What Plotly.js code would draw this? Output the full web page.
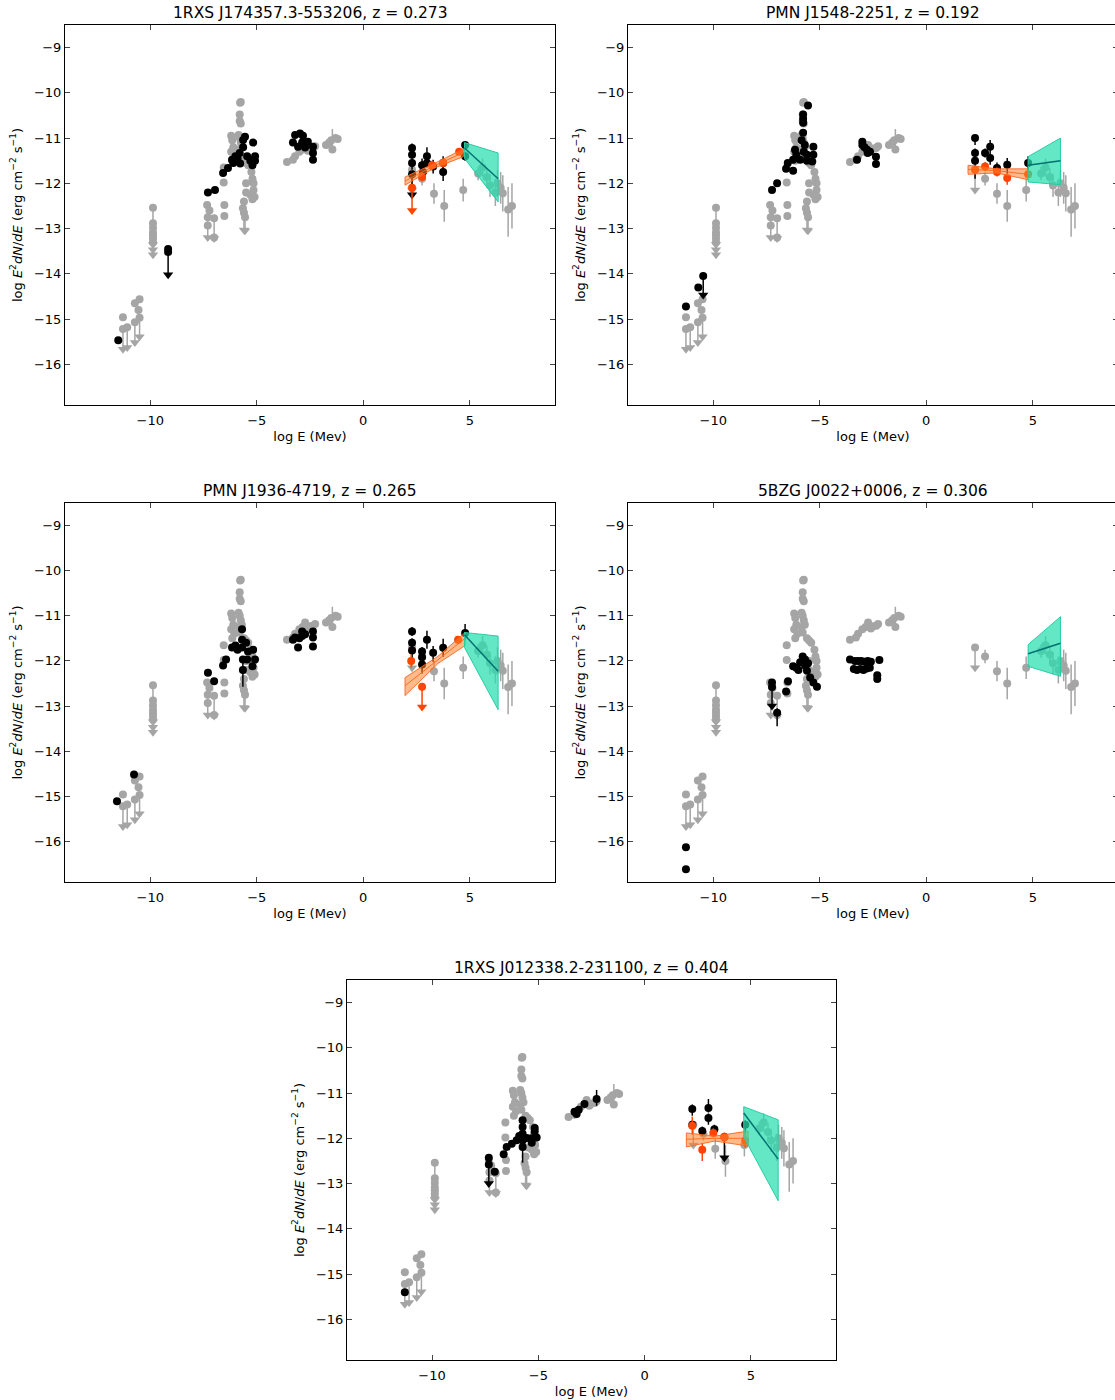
<!DOCTYPE html>
<html><head><meta charset="utf-8">
<script src="https://cdn.plot.ly/plotly-3.0.1.min.js"></script>
<style>html,body{margin:0;padding:0;background:#fff;overflow:hidden;}#chart{width:1120px;height:1400px;}</style>
</head><body><div id="chart"></div>
<script>
// point format: [logE, logFlux, errUp, errDown, upperLimit]
const titles = ["1RXS J174357.3-553206, z = 0.273","PMN J1548-2251, z = 0.192","PMN J1936-4719, z = 0.265","5BZG J0022+0006, z = 0.306","1RXS J012338.2-231100, z = 0.404"];
const xTicks = [-10,-5,0,5];
const yTicks = [-9,-10,-11,-12,-13,-14,-15,-16];

const grayPts = [
 [-11.28,-14.96,0,0,0],[-11.28,-15.22,0,0.45,1],[-11.08,-15.18,0,0.45,1],[-10.72,-15.07,0,0.45,1],
 [-10.72,-14.65,0,0,0],[-10.55,-14.8,0,0,0],[-10.5,-14.56,0,0,0],[-10.5,-14.97,0,0.42,1],
 [-9.87,-12.54,0,0.3,0],[-9.87,-12.88,0,0,0],[-9.87,-12.98,0,0,0],[-9.87,-13.08,0,0,0],
 [-9.87,-13.15,0,0.2,1],[-9.87,-13.22,0,0.25,1],[-9.87,-13.3,0,0.28,1],
 [-7.33,-12.48,0,0,0],[-7.22,-12.6,0,0,0],[-7.3,-12.75,0,0.45,1],[-7.3,-12.93,0,0,0],
 [-7.0,-12.77,0,0.45,1],[-7.0,-13.2,0,0,0],[-6.52,-12.48,0,0,0],[-6.52,-12.72,0,0,0],
 [-6.55,-11.65,0,0,0],[-6.55,-11.98,0,0,0],
 [-5.78,-10.22,0,0,0],[-5.75,-10.2,0,0,0],[-5.8,-10.48,0,0,0],[-5.8,-10.62,0,0,0],[-5.75,-10.68,0,0,0],
 [-6.2,-10.95,0,0,0],[-6.15,-11.05,0,0,0],[-6.1,-11.2,0,0,0],[-6.2,-11.3,0,0,0],[-6.05,-11.4,0,0,0],[-6.15,-11.5,0,0,0],
 [-5.85,-10.93,0,0,0],[-5.8,-11.0,0,0,0],[-5.75,-11.1,0,0,0],[-5.85,-11.25,0,0,0],[-5.8,-11.37,0,0,0],[-5.7,-11.2,0,0,0],
 [-5.6,-11.5,0,0,0],[-5.5,-11.55,0,0,0],[-5.4,-11.6,0,0,0],[-5.25,-11.75,0,0,0],[-5.2,-11.9,0,0,0],
 [-5.15,-12.0,0,0,0],[-5.15,-12.15,0,0,0],[-5.1,-12.3,0,0,0],[-5.2,-12.35,0,0,0],[-5.3,-12.25,0,0,0],
 [-5.5,-12.0,0,0,0],[-5.5,-12.2,0,0,0],[-5.6,-12.4,0,0,0],[-5.65,-12.55,0,0,0],
 [-5.6,-12.65,0,0.38,1],[-5.55,-12.75,0,0.3,1],
 [-3.58,-11.53,0,0,0],[-3.3,-11.48,0,0,0],[-3.2,-11.4,0,0,0],[-3.0,-11.3,0,0,0],[-2.85,-11.25,0,0,0],
 [-2.73,-11.15,0,0,0],[-2.6,-11.28,0,0,0],[-2.5,-11.23,0,0,0],[-2.35,-11.22,0,0,0],[-2.26,-11.18,0,0,0],
 [-1.75,-11.15,0,0,0],[-1.6,-11.1,0,0,0],[-1.5,-11.05,0,0,0],[-1.45,-11.25,0.45,0,0],[-1.3,-11.0,0,0,0],[-1.2,-11.02,0,0,0],
 [2.29,-11.7,0,0.45,1],[2.76,-11.9,0.15,0.15,0],[3.32,-12.23,0.23,0.22,0],[3.8,-12.5,0.35,0.35,0],[4.69,-12.15,0.25,0.25,0],
 [5.39,-11.78,0.15,0.15,0],[5.6,-11.65,0.2,0.2,0],[5.8,-11.86,0.2,0.2,0],[5.95,-12.05,0.25,0.25,0],
 [6.2,-12.2,0.3,0.3,0],[6.3,-12.0,0.3,0.3,0],[6.45,-12.1,0.35,0.35,0],[6.55,-12.22,0.4,0.4,0],
 [6.8,-12.58,0.5,0.6,0],[6.98,-12.5,0.5,0.5,0]
];

const p1Black = [
 [-11.5,-15.47,0,0,0],[-9.16,-13.45,0,0,0],[-9.16,-13.52,0,0.5,1],
 [-7.29,-12.2,0,0,0],[-6.96,-12.15,0,0,0],[-6.58,-11.77,0,0,0],[-6.35,-11.66,0,0,0],[-6.16,-11.48,0,0,0],
 [-6.1,-11.55,0,0,0],[-6.0,-11.4,0,0,0],[-5.8,-11.33,0,0,0],[-5.78,-11.56,0,0,0],[-5.64,-11.04,0,0,0],
 [-5.64,-11.2,0,0,0],[-5.55,-10.97,0,0,0],[-5.45,-11.4,0,0,0],[-5.3,-11.5,0,0,0],[-5.2,-11.6,0,0,0],
 [-5.17,-11.1,0,0,0],[-5.08,-11.4,0,0,0],[-5.08,-11.5,0,0,0],[-5.9,-11.45,0,0,0],
 [-3.2,-10.93,0,0,0],[-2.97,-10.9,0,0,0],[-2.83,-10.95,0,0,0],[-3.3,-11.1,0,0,0],[-3.06,-11.19,0,0,0],
 [-2.87,-11.1,0,0,0],[-2.73,-11.21,0,0,0],[-2.6,-11.08,0,0,0],[-2.36,-11.19,0,0,0],[-2.36,-11.33,0,0,0],[-2.36,-11.48,0,0,0],
 [2.29,-11.22,0.1,0.1,0],[2.29,-11.37,0,0,0],[2.29,-11.55,0.15,0.15,0],[2.29,-11.8,0,0.45,1],
 [2.76,-11.6,0.15,0.15,0],[2.8,-11.75,0.12,0.15,0],[2.99,-11.4,0.2,0.25,0],[2.99,-11.55,0,0,0],
 [3.28,-11.63,0.15,0.15,0],[3.75,-11.55,0.15,0.15,0],[3.75,-11.75,0.15,0.2,0],[4.78,-11.15,0.05,0.1,0],[4.78,-11.4,0.1,0.1,0]
];
const p1Red = [[2.29,-12.1,0,0.5,1],[2.76,-11.86,0.1,0.1,0],[3.23,-11.6,0.1,0.1,0],[3.75,-11.55,0.1,0.1,0],[4.5,-11.3,0.05,0.05,0]];
const p1BowX = [1.96,3.3,4.7], p1BowMid = [-11.95,-11.62,-11.32], p1BowHi = [-11.86,-11.57,-11.24], p1BowLo = [-12.04,-11.67,-11.41];
const p1GrX = [4.75,6.33], p1GrMid = [-11.22,-11.9], p1GrHi = [-11.1,-11.33], p1GrLo = [-11.45,-12.41];

const p2Black = [
 [-11.28,-14.72,0,0,0],[-10.7,-14.3,0,0,0],[-10.47,-14.05,0,0.42,1],
 [-7.24,-12.15,0,0,0],[-7.0,-12.0,0,0,0],[-6.58,-11.68,0,0,0],[-6.25,-11.72,0,0,0],[-6.5,-11.55,0,0,0],
 [-6.25,-11.48,0,0,0],[-6.16,-11.26,0,0,0],[-6.1,-11.37,0,0,0],[-5.92,-11.48,0,0,0],[-5.78,-10.48,0,0,0],
 [-5.78,-10.57,0,0,0],[-5.78,-10.66,0,0,0],[-5.78,-10.88,0,0,0],[-5.7,-11.15,0,0,0],[-5.55,-10.28,0,0,0],
 [-5.6,-11.37,0,0,0],[-5.6,-11.5,0,0,0],[-5.3,-11.19,0,0,0],[-5.3,-11.37,0,0,0],[-5.35,-11.52,0,0,0],
 [-5.75,-11.3,0,0,0],[-5.85,-11.05,0,0,0],
 [-3.25,-11.48,0,0,0],[-3.0,-11.08,0,0,0],[-3.0,-11.15,0,0,0],[-2.78,-11.26,0,0,0],[-2.75,-11.33,0,0,0],
 [-2.64,-11.3,0,0,0],[-2.36,-11.41,0,0,0],[-2.36,-11.57,0,0,0],[-2.9,-11.2,0,0,0],
 [2.29,-11.0,0.05,0.15,0],[2.29,-11.33,0.1,0.1,0],[2.29,-11.5,0.1,0.4,0],[2.76,-11.33,0.1,0.1,0],
 [3.0,-11.19,0.15,0.2,0],[3.0,-11.44,0.1,0.15,0],[3.32,-11.66,0.12,0.15,0],[3.8,-11.59,0.15,0.2,0],[4.78,-11.55,0.15,0.15,0]
];
const p2Red = [[2.29,-11.7,0.1,0.1,0],[2.76,-11.63,0.1,0.1,0],[3.32,-11.75,0.1,0.1,0],[3.8,-11.88,0.1,0.15,0],[4.78,-11.8,0.05,0.05,0]];
const p2BowX = [1.96,3.3,4.78], p2BowMid = [-11.69,-11.72,-11.8], p2BowHi = [-11.6,-11.68,-11.68], p2BowLo = [-11.8,-11.77,-11.92];
const p2GrX = [4.78,6.3], p2GrMid = [-11.6,-11.5], p2GrHi = [-11.41,-11.0], p2GrLo = [-11.97,-12.03];

const p3Black = [
 [-11.56,-15.11,0,0,0],[-10.76,-14.52,0,0,0],
 [-7.29,-12.26,0,0,0],[-7.0,-12.45,0,0,0],[-6.58,-12.1,0,0,0],[-6.44,-11.97,0,0,0],[-6.16,-11.7,0,0,0],
 [-6.0,-11.66,0,0,0],[-5.69,-11.3,0,0,0],[-5.69,-11.53,0,0,0],[-5.69,-11.7,0,0,0],[-5.65,-11.97,0,0.6,0],
 [-5.65,-12.2,0,0,0],[-5.41,-11.79,0,0,0],[-5.17,-11.75,0,0,0],[-5.08,-11.97,0,0,0],[-5.2,-12.12,0,0,0],
 [-5.45,-11.97,0,0,0],[-5.9,-11.75,0,0,0],[-5.5,-11.6,0,0,0],
 [-3.3,-11.53,0,0,0],[-3.2,-11.48,0,0,0],[-2.87,-11.35,0,0,0],[-2.87,-11.45,0,0,0],[-3.06,-11.7,0,0,0],
 [-2.73,-11.41,0,0,0],[-2.36,-11.35,0,0,0],[-2.36,-11.48,0,0,0],[-2.36,-11.68,0,0,0],[-3.0,-11.5,0,0,0],
 [2.29,-11.35,0.1,0.1,0],[2.29,-11.6,0.1,0.1,0],[2.29,-11.77,0.15,0.3,0],[2.76,-11.79,0.1,0.1,0],
 [2.76,-11.92,0,0,0],[2.76,-12.08,0.1,0.2,0],[2.99,-11.53,0.2,0.2,0],[3.28,-11.82,0.15,0.2,0],
 [3.75,-11.71,0.2,0.2,0],[4.78,-11.38,0.2,0.15,0]
];
const p3Red = [[2.25,-12.0,0.15,0.15,0],[2.76,-12.57,0,0.45,1],[4.45,-11.53,0.05,0.05,0]];
const p3BowX = [1.96,3.5,4.78], p3BowMid = [-12.55,-11.98,-11.5], p3BowHi = [-12.37,-11.9,-11.37], p3BowLo = [-12.77,-12.06,-11.66];
const p3GrX = [4.75,6.33], p3GrMid = [-11.42,-12.23], p3GrHi = [-11.37,-11.45], p3GrLo = [-11.7,-13.08];

const p4Black = [
 [-11.28,-16.13,0,0,0],[-11.28,-16.62,0,0,0],
 [-7.24,-12.48,0,0,0],[-7.24,-12.58,0,0.42,1],[-7.0,-13.15,0.1,0.3,0],[-6.58,-12.68,0,0,0],[-6.49,-12.45,0,0,0],
 [-6.25,-12.12,0,0,0],[-6.1,-12.15,0,0,0],[-5.92,-12.03,0,0,0],[-5.69,-11.97,0,0,0],[-5.69,-12.1,0,0,0],
 [-5.6,-12.22,0,0,0],[-5.45,-12.37,0,0,0],[-5.3,-12.48,0,0,0],[-5.13,-12.57,0,0,0],[-6.0,-12.2,0,0,0],
 [-5.8,-11.9,0,0,0],[-5.55,-12.05,0,0,0],
 [-3.58,-11.97,0,0,0],[-3.35,-12.0,0,0,0],[-3.2,-12.0,0,0,0],[-3.05,-12.0,0,0,0],[-2.9,-12.02,0,0,0],
 [-2.75,-12.0,0,0,0],[-2.6,-12.02,0,0,0],[-2.2,-11.98,0,0,0],[-3.4,-12.18,0,0,0],[-3.25,-12.2,0,0,0],
 [-3.1,-12.18,0,0,0],[-2.95,-12.2,0,0,0],[-2.8,-12.17,0,0,0],[-2.65,-12.15,0,0,0],[-2.3,-12.32,0,0,0],[-2.3,-12.4,0,0,0]
];
const p4Red = [];
const p4BowX = [], p4BowMid = [], p4BowHi = [], p4BowLo = [];
const p4GrX = [4.78,6.3], p4GrMid = [-11.84,-11.61], p4GrHi = [-11.64,-11.02], p4GrLo = [-12.12,-12.34];

const p5Black = [
 [-11.28,-15.4,0,0,0],
 [-7.33,-12.43,0,0,0],[-7.33,-12.58,0,0.42,1],[-7.05,-12.74,0,0,0],[-6.63,-12.35,0,0,0],[-6.49,-12.19,0,0,0],
 [-6.25,-12.12,0,0,0],[-6.02,-12.04,0,0,0],[-5.85,-12.0,0,0,0],[-5.74,-11.6,0,0,0],[-5.74,-11.75,0,0,0],
 [-5.74,-11.9,0,0,0],[-5.74,-12.05,0,0,0],[-5.74,-12.19,0,0.35,0],[-5.55,-11.99,0,0,0],[-5.31,-12.0,0,0,0],
 [-5.17,-11.77,0,0,0],[-5.17,-11.85,0,0,0],[-5.08,-11.98,0,0,0],[-5.31,-12.1,0,0,0],[-5.9,-11.95,0,0,0],
 [-3.3,-11.41,0,0,0],[-3.2,-11.46,0,0,0],[-3.1,-11.37,0,0,0],[-2.83,-11.24,0,0,0],[-2.26,-11.13,0.2,0.15,0],
 [2.24,-11.35,0.1,0.15,0],[2.24,-11.7,0.1,0.1,0],[2.71,-11.84,0.1,0.1,0],[3.0,-11.33,0.2,0.1,0],
 [3.0,-11.55,0.1,0.15,0],[3.28,-11.8,0.1,0.1,0],[3.75,-11.97,0,0.46,1],[4.73,-11.7,0.1,0.2,0]
];
const p5Red = [[2.24,-11.72,0.2,0.2,0],[2.71,-12.25,0.15,0.25,0],[3.23,-11.88,0.1,0.1,0],[3.75,-11.97,0.1,0.1,0],[4.73,-12.05,0.15,0.15,0]];
const p5BowX = [1.96,3.3,4.87], p5BowMid = [-12.02,-12.0,-12.0], p5BowHi = [-11.88,-11.95,-11.84], p5BowLo = [-12.19,-12.06,-12.17];
const p5GrX = [4.66,6.28], p5GrMid = [-11.44,-12.46], p5GrHi = [-11.3,-11.59], p5GrLo = [-11.97,-13.38];

const panels = [
 {black:p1Black, red:p1Red, bx:p1BowX, bm:p1BowMid, bh:p1BowHi, bl:p1BowLo, gx:p1GrX, gm:p1GrMid, gh:p1GrHi, gl:p1GrLo},
 {black:p2Black, red:p2Red, bx:p2BowX, bm:p2BowMid, bh:p2BowHi, bl:p2BowLo, gx:p2GrX, gm:p2GrMid, gh:p2GrHi, gl:p2GrLo},
 {black:p3Black, red:p3Red, bx:p3BowX, bm:p3BowMid, bh:p3BowHi, bl:p3BowLo, gx:p3GrX, gm:p3GrMid, gh:p3GrHi, gl:p3GrLo},
 {black:p4Black, red:p4Red, bx:p4BowX, bm:p4BowMid, bh:p4BowHi, bl:p4BowLo, gx:p4GrX, gm:p4GrMid, gh:p4GrHi, gl:p4GrLo},
 {black:p5Black, red:p5Red, bx:p5BowX, bm:p5BowMid, bh:p5BowHi, bl:p5BowLo, gx:p5GrX, gm:p5GrMid, gh:p5GrHi, gl:p5GrLo}
];

// layout geometry (pixels)
const W = 1120, H = 1400;
const boxes = [[65,555,25,405],[628,1118,25,405],[65,555,503,882],[628,1118,503,882],[347,836,980,1360]];

const traces = [];
function ptsTraces(pts, color, xa, ya, size){
  if(!pts.length) return;
  traces.push({type:'scatter', mode:'markers', xaxis:xa, yaxis:ya, x:pts.map(p=>p[0]), y:pts.map(p=>p[1]),
    marker:{size:size, color:color, line:{width:0}},
    error_y:{type:'data', symmetric:false, array:pts.map(p=>p[2]), arrayminus:pts.map(p=>p[3]), color:color, thickness:1.5, width:0},
    hoverinfo:'skip', showlegend:false});
  const ul = pts.filter(p=>p[4]);
  if(ul.length) traces.push({type:'scatter', mode:'markers', xaxis:xa, yaxis:ya, x:ul.map(p=>p[0]), y:ul.map(p=>p[1]-p[3]),
    marker:{symbol:'triangle-down', size:9, color:color, line:{width:0}}, hoverinfo:'skip', showlegend:false});
}
function band(x, hi, lo, mid, fill, edge, midc, xa, ya, midw){
  if(!x.length) return;
  traces.push({type:'scatter', mode:'lines', xaxis:xa, yaxis:ya, x:x.concat(x.slice().reverse()).concat([x[0]]),
    y:hi.concat(lo.slice().reverse()).concat([hi[0]]), fill:'toself', fillcolor:fill, line:{color:edge, width:1},
    hoverinfo:'skip', showlegend:false});
  traces.push({type:'scatter', mode:'lines', xaxis:xa, yaxis:ya, x:x, y:mid, line:{color:midc, width:midw}, hoverinfo:'skip', showlegend:false});
}

const layout = {width:W, height:H, margin:{l:0,r:0,t:0,b:0}, paper_bgcolor:'#fff', plot_bgcolor:'#fff',
  font:{family:'DejaVu Sans, sans-serif', size:13, color:'#000'}, showlegend:false, annotations:[]};

panels.forEach((p,i)=>{
  const n = i+1, xa = 'x'+(n>1?n:''), ya = 'y'+(n>1?n:'');
  const b = boxes[i];
  layout['xaxis'+(n>1?n:'')] = {domain:[b[0]/W, b[1]/W], anchor:ya, range:[-14,9], tickvals:xTicks, ticks:'inside', ticklen:5,
    mirror:'ticks', showline:true, linecolor:'#000', linewidth:1, showgrid:false, zeroline:false, tickfont:{size:13},
    ticklabelstandoff:3, title:{text:'log E (Mev)', font:{size:13}, standoff:5}};
  layout['yaxis'+(n>1?n:'')] = {domain:[1-b[3]/H, 1-b[2]/H], anchor:xa, range:[-16.9,-8.5], tickvals:yTicks, ticks:'inside', ticklen:5,
    mirror:'ticks', showline:true, linecolor:'#000', linewidth:1, showgrid:false, zeroline:false, tickfont:{size:13},
    title:{text:'log <i>E</i><sup>2</sup><i>dN</i>/<i>dE</i> (erg cm<sup>−2</sup> s<sup>−1</sup>)', font:{size:13}, standoff:8}};
  layout.annotations.push({text:titles[i], xref:'paper', yref:'paper', x:(b[0]+b[1])/2/W, y:1-b[2]/H, yshift:1,
    xanchor:'center', yanchor:'bottom', showarrow:false, font:{size:15.5}});
  ptsTraces(grayPts, '#a5a5a5', xa, ya, 8);
  ptsTraces(p.black, '#000000', xa, ya, 8);
  ptsTraces(p.red, '#ff4500', xa, ya, 8);
  band(p.bx, p.bh, p.bl, p.bm, 'rgba(255,130,40,0.55)', 'rgba(255,100,30,0.9)', 'rgba(255,100,30,0.9)', xa, ya, 1);
  band(p.gx, p.gh, p.gl, p.gm, 'rgba(40,222,175,0.72)', 'rgba(40,205,165,1)', '#007272', xa, ya, 1.5);
});

Plotly.newPlot('chart', traces, layout, {staticPlot:true, displayModeBar:false});
</script></body></html>
